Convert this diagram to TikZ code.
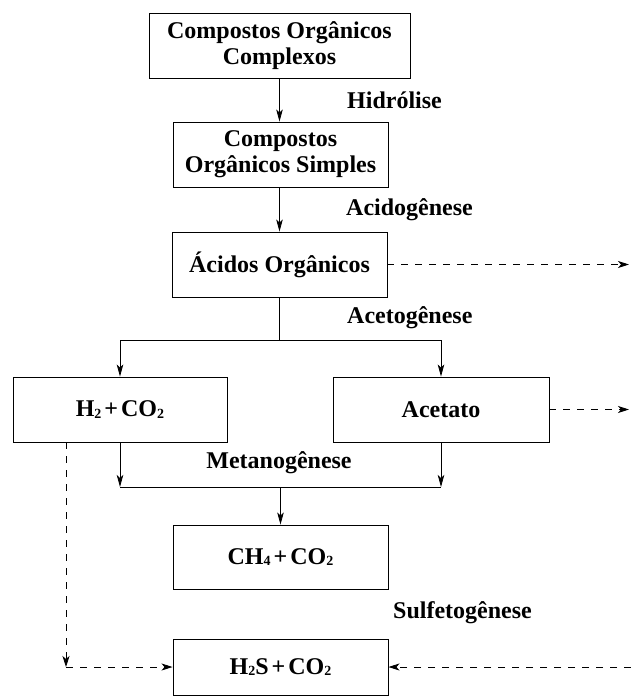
\documentclass[tikz,border=0pt]{standalone}
\usepackage{fontspec}
\setmainfont{Liberation Serif}
\usetikzlibrary{arrows.meta}
% small chemical index digit, set close to the baseline
\newcommand{\idx}[1]{\raisebox{-1.5pt}{\fontsize{14}{14}\selectfont #1}}
\newcommand{\plus}{\hspace{3pt}+\hspace{3pt}}
\begin{document}
\begin{tikzpicture}[x=1pt,y=-1pt,
  font=\fontsize{24}{26}\selectfont\bfseries,
  box/.style={draw,line width=0.9pt,inner sep=0pt,align=center,minimum height=65pt},
  lbl/.style={anchor=west,inner sep=0pt},
  flow/.style={line width=0.8pt,-{Stealth[length=12pt,width=6.5pt,inset=3pt]}},
  plain/.style={line width=0.8pt},
  side/.style={line width=0.8pt,dash pattern=on 7pt off 7pt,-{Stealth[length=11pt,width=7pt,inset=3pt]}}]
\useasboundingbox (0,0) rectangle (631,697);

% process boxes
\node[box,minimum width=261pt] (cplx) at (279.5,45.5) {Compostos Orgânicos\\Complexos};
\node[box,minimum width=215pt] (simp) at (280.5,154.5) {Compostos\\Orgânicos Simples};
\node[box,minimum width=215pt] (acid) at (279.5,264.5) {Ácidos Orgânicos};
\node[box,minimum width=214pt] (hyd) at (120,409.5) {H\idx{2}\plus CO\idx{2}};
\node[box,minimum width=216pt] (acet) at (441,409.5) {Acetato};
\node[box,minimum width=215pt,minimum height=64pt] (meth) at (280.5,557) {CH\idx{4}\plus CO\idx{2}};
\node[box,minimum width=215pt,minimum height=56pt] (sulf) at (280.5,667) {H\idx{2}S\plus CO\idx{2}};

% stage labels
\node[lbl] (l1) at (347,100) {Hidrólise};
\node[lbl] (l2) at (346,210) {Acidogênese};
\node[lbl] (l3) at (347,318) {Acetogênese};
\node[inner sep=0pt] (l4) at (279,463) {Metanogênese};
\node[lbl] (l5) at (393,613) {Sulfetogênese};

% junction points
\coordinate (sa) at (279.5,340);
\coordinate (sl) at (120,340);
\coordinate (sr) at (441,340);
\coordinate (ml) at (120,487);
\coordinate (mr) at (441,487);
\coordinate (mc) at (280.5,487);
\coordinate (dtop) at (66,442);
\coordinate (dbot) at (66,667);
\coordinate (oa) at (629,264.5);
\coordinate (ob) at (629,409.5);
\coordinate (oc) at (631,667);

% main flow
\draw[flow] (cplx.south) -- (simp.north -| cplx.south);
\draw[flow] (simp.south -| acid.south) -- (acid.north);
\draw[plain] (acid.south) -- (sa);
\draw[plain] (sl) -- (sr);
\draw[flow] (sl) -- (hyd.north);
\draw[flow] (sr) -- (acet.north);
\draw[flow] (hyd.south) -- (ml);
\draw[flow] (acet.south) -- (mr);
\draw[plain] (ml) -- (mr);
\draw[flow] (mc) -- (meth.north);

% side routes
\draw[side] (acid.east) -- (oa);
\draw[side] (acet.east) -- (ob);
\draw[side] (dtop) -- (dbot);
\draw[side] (dbot) -- (sulf.west);
\draw[side] (oc) -- (sulf.east);
\end{tikzpicture}
\end{document}
